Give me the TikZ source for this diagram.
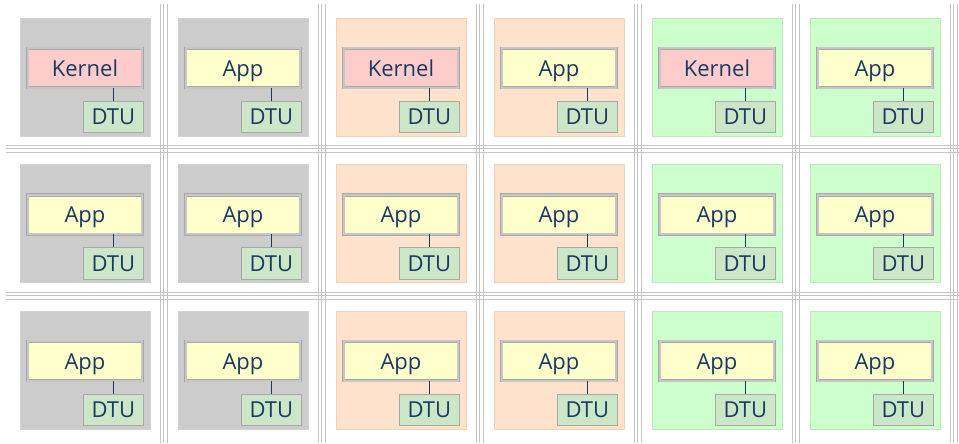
\documentclass[tikz,border=0pt]{standalone}
\usepackage{fontspec}
\setmainfont{Open Sans}
\definecolor{cgray}{HTML}{CCCCCC}
\definecolor{cgrayb}{HTML}{D2D2D2}
\definecolor{cpeach}{HTML}{FFE2CC}
\definecolor{cpeachb}{HTML}{EED2BE}
\definecolor{cgreen}{HTML}{CCFFCC}
\definecolor{cgreenb}{HTML}{C0E6C0}
\definecolor{ckern}{HTML}{FFCCCC}
\definecolor{capp}{HTML}{FFFFCC}
\definecolor{cdtu}{HTML}{CCE6C8}
\definecolor{ctext}{HTML}{183A62}
\definecolor{cframe}{HTML}{A8A8A8}
\definecolor{cband}{HTML}{C6C6C6}
\definecolor{cgrid}{HTML}{C4C4C4}
\begin{document}
\begin{tikzpicture}[x=0.75pt,y=-0.75pt,
  tilebox/.style={draw=#1b, fill=#1, line width=0.75pt, minimum width=97.5pt, minimum height=88.5pt, inner sep=0pt},
  procbox/.style={draw=cframe, double=cband, double distance=1.6pt, line width=0.45pt, fill=#1,
     minimum width=86pt, minimum height=29.5pt, inner sep=0pt, text=ctext, text height=13.2pt, text depth=1.2pt,
     font=\fontsize{16.5pt}{18pt}\selectfont},
  dtubox/.style={draw=cframe, fill=cdtu, line width=0.6pt, minimum width=45pt, minimum height=23.8pt,
     inner sep=0pt, text=ctext, text height=13.2pt, text depth=1.2pt, font=\fontsize{16.5pt}{18pt}\selectfont},
  link/.style={draw=ctext, line width=1.2pt},
  gridline/.style={draw=cgrid, line width=0.75pt}]
\useasboundingbox (0,0) rectangle (959,443);
% grid lines
\foreach \k in {0,...,5} {
  \foreach \o in {0.5,3.2,7.5} {
    \draw[gridline] ({160+158*\k+\o},4) -- ({160+158*\k+\o},443);
  }
}
\foreach \k in {0,1} {
  \foreach \o in {0.5,3.3,7.5} {
    \draw[gridline] (6,{145+147*\k+\o}) -- (959,{145+147*\k+\o});
  }
}
% tiles
\foreach \i/\bg in {0/cgray,1/cgray,2/cpeach,3/cpeach,4/cgreen,5/cgreen} {
  \foreach \j in {0,1,2} {
    \pgfmathsetmacro{\cx}{20+158*\i}
    \pgfmathsetmacro{\cy}{18+146.5*\j}
    \pgfmathtruncatemacro{\iskern}{(\j==0) && (mod(\i,2)==0)}
    \node[tilebox=\bg] (cell-\i-\j) at ({\cx+65},{\cy+59}) {};
    \ifnum\iskern=1
      \node[procbox=ckern] (app-\i-\j) at ({\cx+65},{\cy+50}) {Kernel};
    \else
      \node[procbox=capp] (app-\i-\j) at ({\cx+65},{\cy+50}) {App};
    \fi
    \node[dtubox] (dtu-\i-\j) at ({\cx+93.3},{\cy+98.8}) {DTU};
    \draw[link] (dtu-\i-\j.north) -- (dtu-\i-\j.north |- app-\i-\j.south);
  }
}
\end{tikzpicture}
\end{document}
